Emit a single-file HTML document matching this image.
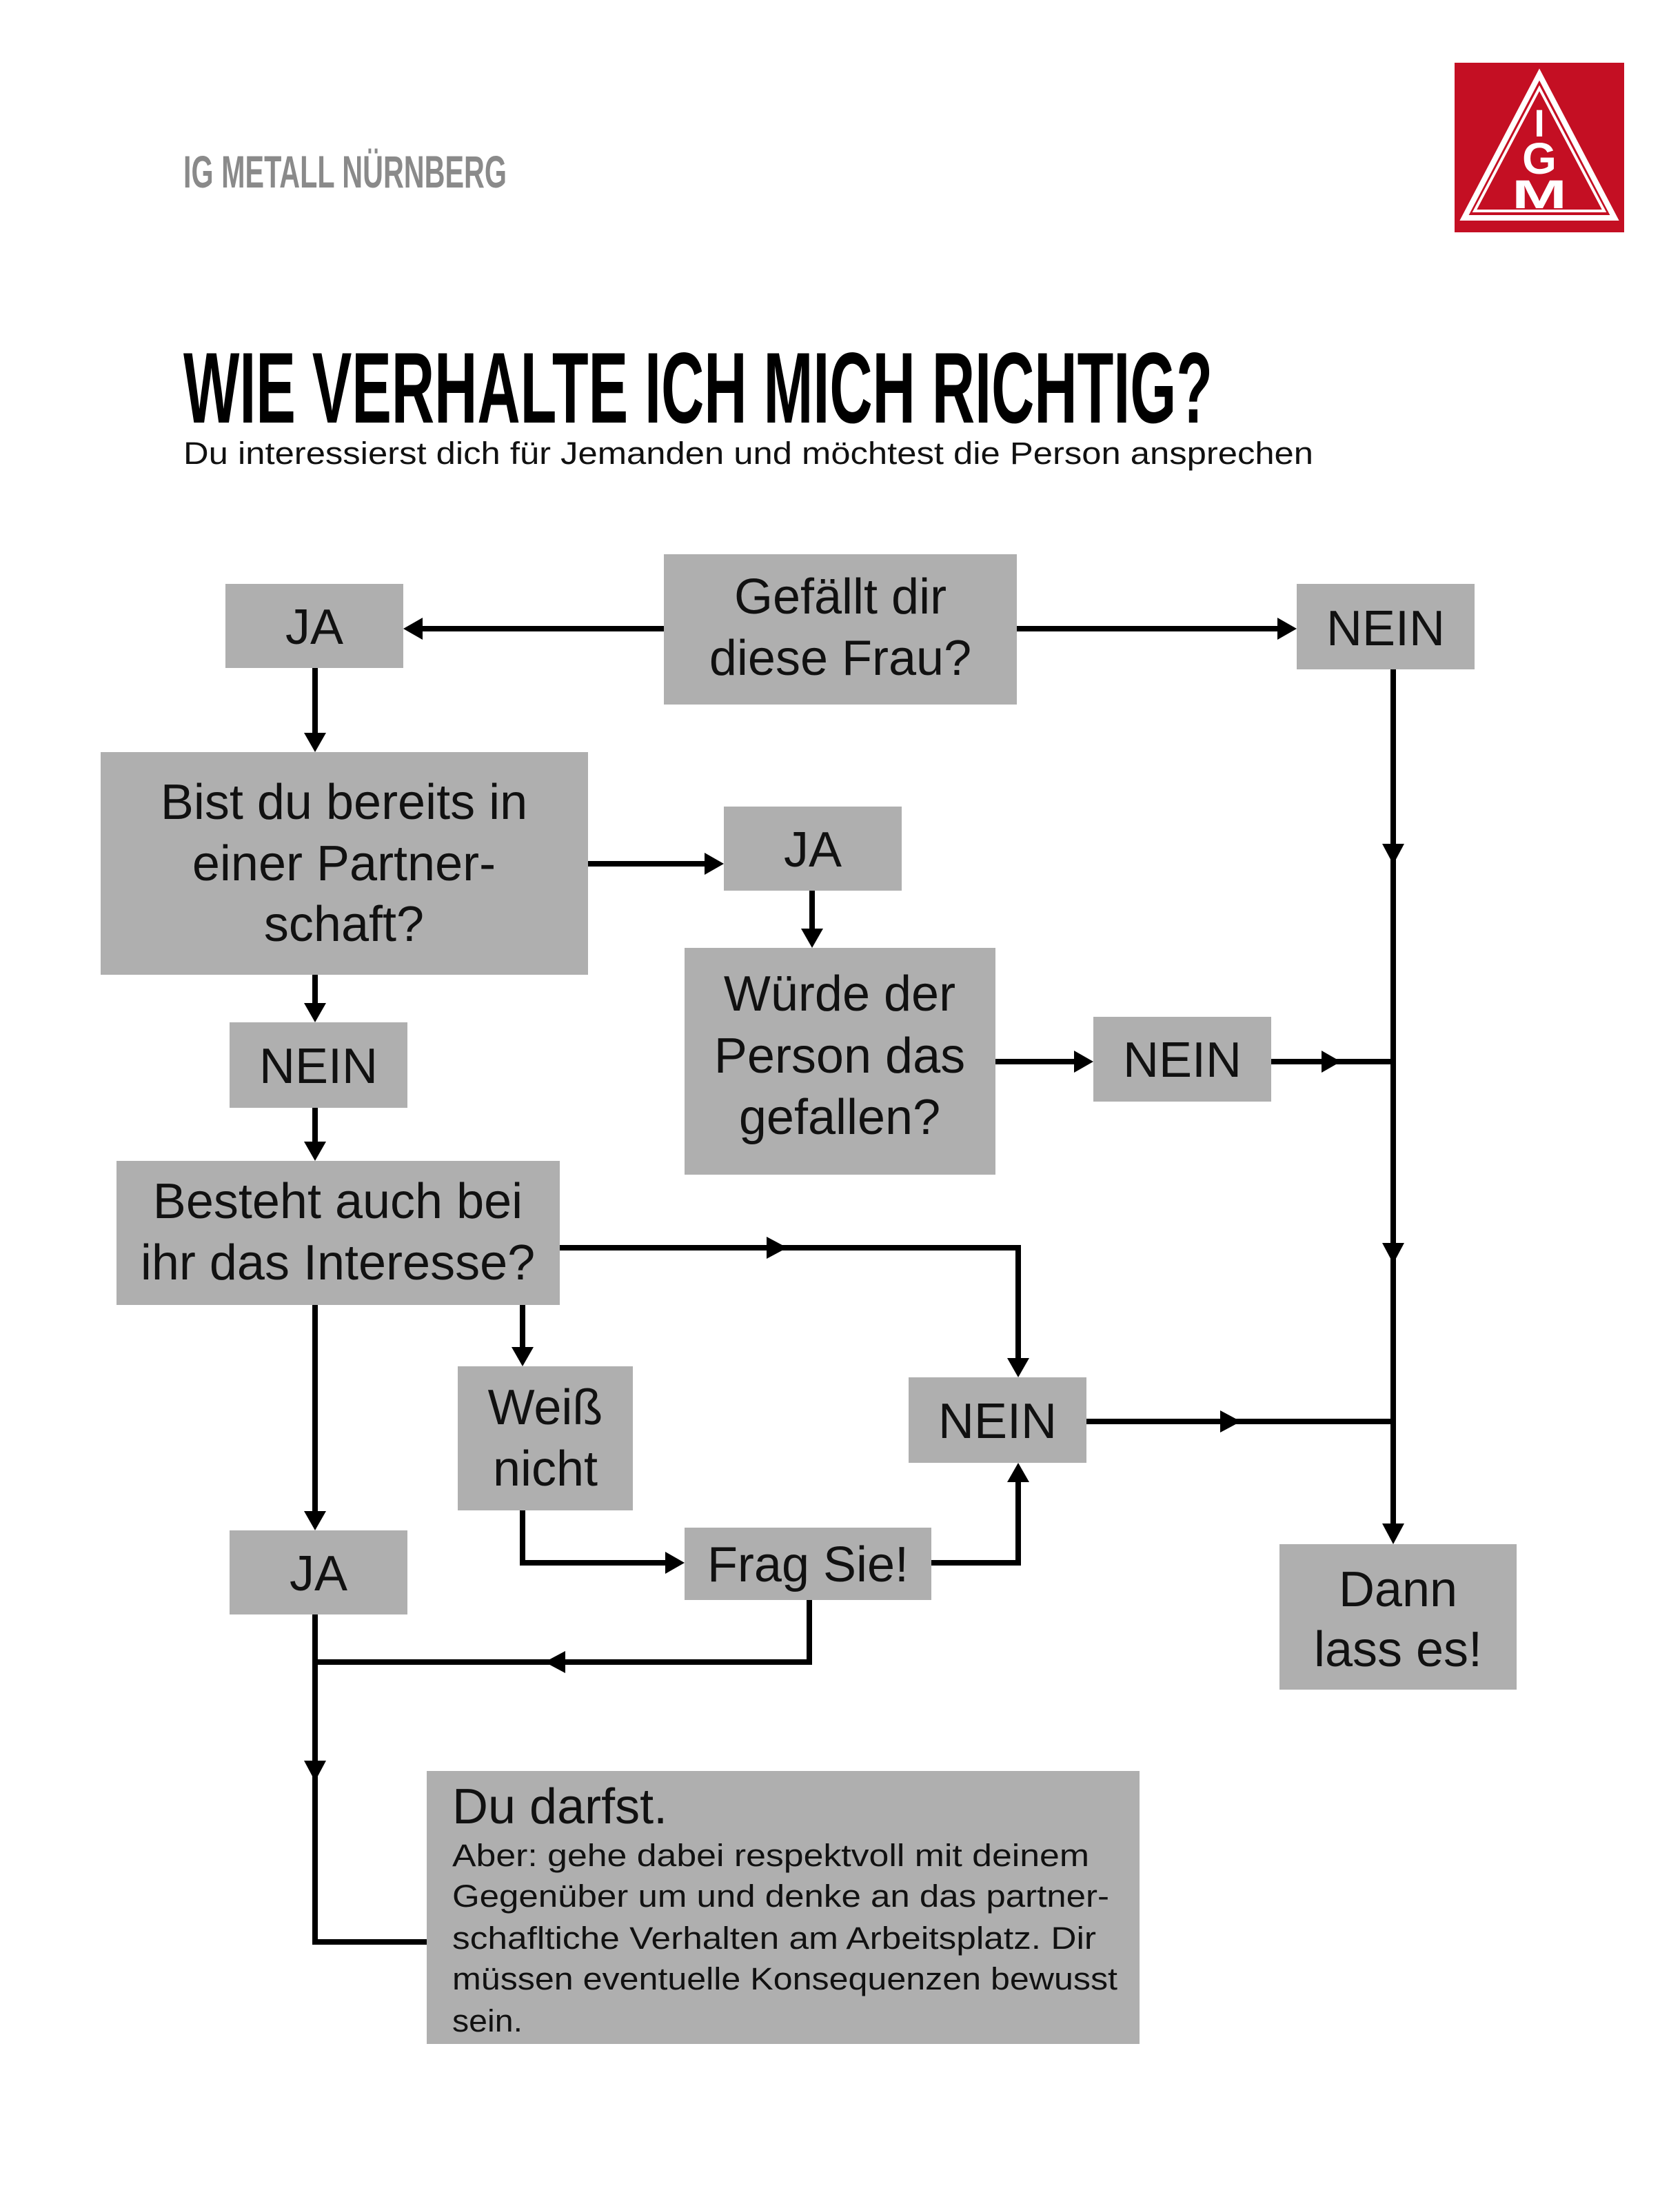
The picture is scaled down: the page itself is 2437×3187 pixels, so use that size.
<!DOCTYPE html>
<html><head><meta charset="utf-8">
<style>
html,body{margin:0;padding:0;background:#fff;}
svg{display:block;}
text{font-family:"Liberation Sans",sans-serif;}
</style></head><body>
<svg width="2437" height="3187" viewBox="0 0 2437 3187" xmlns="http://www.w3.org/2000/svg">
<rect width="2437" height="3187" fill="#fff"/>
<!-- header -->
<text x="266" y="272" font-size="66" font-weight="bold" fill="#8a8a8a" textLength="469" lengthAdjust="spacingAndGlyphs">IG METALL NÜRNBERG</text>
<rect x="2110" y="91" width="246" height="246" fill="#c40f23"/>
<polygon points="2233,108 2342,316 2124,316" fill="none" stroke="#fff" stroke-width="8"/>
<polygon points="2233,128 2327,306 2139,306" fill="none" stroke="#fff" stroke-width="4"/>
<text x="2233" y="198" font-size="56" fill="#fff" text-anchor="middle" font-weight="bold">I</text>
<text x="2233" y="252" font-size="64" fill="#fff" text-anchor="middle" font-weight="bold">G</text>
<text x="2233" y="302" font-size="58" fill="#fff" text-anchor="middle" font-weight="bold" textLength="80" lengthAdjust="spacingAndGlyphs">M</text>
<text x="266" y="613" font-size="146" font-weight="bold" fill="#000" textLength="1493" lengthAdjust="spacingAndGlyphs">WIE VERHALTE ICH MICH RICHTIG?</text>
<text x="266" y="673" font-size="45" fill="#111" textLength="1639" lengthAdjust="spacingAndGlyphs">Du interessierst dich für Jemanden und möchtest die Person ansprechen</text>

<!-- boxes -->
<g fill="#afafaf">
<rect x="963" y="804" width="512" height="218"/>
<rect x="327" y="847" width="258" height="122"/>
<rect x="1881" y="847" width="258" height="124"/>
<rect x="146" y="1091" width="707" height="323"/>
<rect x="1050" y="1170" width="258" height="122"/>
<rect x="993" y="1375" width="451" height="329"/>
<rect x="1586" y="1475" width="258" height="123"/>
<rect x="333" y="1483" width="258" height="124"/>
<rect x="169" y="1684" width="643" height="209"/>
<rect x="664" y="1982" width="254" height="209"/>
<rect x="1318" y="1998" width="258" height="124"/>
<rect x="333" y="2220" width="258" height="122"/>
<rect x="993" y="2216" width="358" height="105"/>
<rect x="1856" y="2240" width="344" height="211"/>
<rect x="619" y="2569" width="1034" height="396"/>
</g>

<!-- lines -->
<g stroke="#000" stroke-width="8" fill="none">
<line x1="963" y1="912" x2="600" y2="912"/>
<line x1="1475" y1="912" x2="1866" y2="912"/>
<line x1="457" y1="969" x2="457" y2="1080"/>
<line x1="2021" y1="971" x2="2021" y2="2228"/>
<line x1="853" y1="1253" x2="1038" y2="1253"/>
<line x1="1178" y1="1292" x2="1178" y2="1364"/>
<line x1="1444" y1="1540" x2="1574" y2="1540"/>
<line x1="1844" y1="1540" x2="2021" y2="1540"/>
<line x1="457" y1="1414" x2="457" y2="1472"/>
<line x1="457" y1="1607" x2="457" y2="1672"/>
<polyline points="812,1810 1477,1810 1477,1986"/>
<line x1="1576" y1="2062" x2="2021" y2="2062"/>
<line x1="758" y1="1893" x2="758" y2="1970"/>
<line x1="457" y1="1893" x2="457" y2="2208"/>
<polyline points="758,2191 758,2267 981,2267"/>
<polyline points="1351,2267 1477,2267 1477,2134"/>
<polyline points="1174,2321 1174,2411 457,2411"/>
<polyline points="457,2342 457,2817 619,2817"/>
</g>

<!-- arrowheads -->
<g fill="#000">
<polygon points="585,912 613,896 613,928"/>
<polygon points="1881,912 1853,896 1853,928"/>
<polygon points="457,1091 441,1063 473,1063"/>
<polygon points="2021,1254 2005,1224 2037,1224"/>
<polygon points="2021,1833 2005,1803 2037,1803"/>
<polygon points="2021,2240 2005,2210 2037,2210"/>
<polygon points="1050,1253 1022,1237 1022,1269"/>
<polygon points="1178,1375 1162,1347 1194,1347"/>
<polygon points="1586,1540 1558,1524 1558,1556"/>
<polygon points="1945,1540 1917,1524 1917,1556"/>
<polygon points="457,1483 441,1455 473,1455"/>
<polygon points="457,1684 441,1656 473,1656"/>
<polygon points="1142,1810 1112,1794 1112,1826"/>
<polygon points="1477,1998 1461,1970 1493,1970"/>
<polygon points="1800,2062 1770,2046 1770,2078"/>
<polygon points="758,1982 742,1954 774,1954"/>
<polygon points="457,2220 441,2192 473,2192"/>
<polygon points="993,2267 965,2251 965,2283"/>
<polygon points="1477,2122 1461,2150 1493,2150"/>
<polygon points="790,2411 820,2395 820,2427"/>
<polygon points="457,2584 441,2554 473,2554"/>
</g>

<!-- labels -->
<g font-size="72" fill="#111" text-anchor="middle">
<text x="1219" y="890">Gefällt dir</text>
<text x="1219" y="979">diese Frau?</text>
<text x="456" y="934">JA</text>
<text x="2010" y="936">NEIN</text>
<text x="499" y="1188">Bist du bereits in</text>
<text x="499" y="1277">einer Partner-</text>
<text x="499" y="1365">schaft?</text>
<text x="1179" y="1257">JA</text>
<text x="1218" y="1466">Würde der</text>
<text x="1218" y="1556">Person das</text>
<text x="1218" y="1645">gefallen?</text>
<text x="1715" y="1562">NEIN</text>
<text x="462" y="1571">NEIN</text>
<text x="490" y="1767">Besteht auch bei</text>
<text x="490" y="1856">ihr das Interesse?</text>
<text x="791" y="2066">Weiß</text>
<text x="791" y="2155">nicht</text>
<text x="1447" y="2086">NEIN</text>
<text x="462" y="2307">JA</text>
<text x="1172" y="2294">Frag Sie!</text>
<text x="2028" y="2330">Dann</text>
<text x="2028" y="2417">lass es!</text>
</g>
<text x="656" y="2645" font-size="72" fill="#111">Du darfst.</text>
<g font-size="45" fill="#111">
<text x="656" y="2707" textLength="924" lengthAdjust="spacingAndGlyphs">Aber: gehe dabei respektvoll mit deinem</text>
<text x="656" y="2766" textLength="953" lengthAdjust="spacingAndGlyphs">Gegenüber um und denke an das partner-</text>
<text x="656" y="2827" textLength="934" lengthAdjust="spacingAndGlyphs">schafltiche Verhalten am Arbeitsplatz. Dir</text>
<text x="656" y="2886" textLength="965" lengthAdjust="spacingAndGlyphs">müssen eventuelle Konsequenzen bewusst</text>
<text x="656" y="2947" textLength="102" lengthAdjust="spacingAndGlyphs">sein.</text>
</g>
</svg>
</body></html>
